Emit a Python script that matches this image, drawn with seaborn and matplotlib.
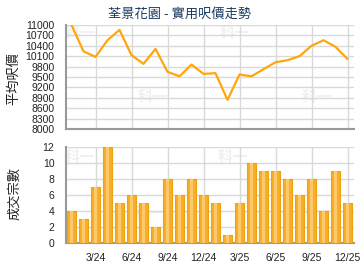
import matplotlib
matplotlib.use("Agg")
import matplotlib.pyplot as plt
import seaborn as sns
import pandas as pd

months = ["1/24","2/24","3/24","4/24","5/24","6/24","7/24","8/24","9/24","10/24","11/24","12/24",
          "1/25","2/25","3/25","4/25","5/25","6/25","7/25","8/25","9/25","10/25","11/25","12/25"]
price = [11000, 10240, 10080, 10560, 10860, 10130, 9880, 10310, 9650, 9520, 9860, 9590,
         9610, 8840, 9570, 9520, 9725, 9925, 9985, 10100, 10400, 10560, 10370, 10020]
deals = [4, 3, 7, 12, 5, 6, 5, 2, 8, 6, 8, 6, 5, 1, 5, 10, 9, 9, 8, 6, 8, 4, 9, 5]
tick_labels = ["3/24", "6/24", "9/24", "12/24", "3/25", "6/25", "9/25", "12/25"]
price_ticks = list(range(8000, 11001, 300))
deal_ticks = list(range(0, 13, 2))

title = "荃景花園 - 實用呎價走勢"
ylab_top = "平均呎價"
ylab_bot = "成交宗數"
watermark = "科一"

sns.set_theme(style="white")
plt.rcParams['font.family'] = ['Noto Sans CJK TC', 'DejaVu Sans']

df = pd.DataFrame({"month": months, "price": price, "deals": deals})
df["idx"] = range(len(months))
tick_pos = [months.index(t) for t in tick_labels]

W, H = 360, 270
fig = plt.figure(figsize=(3.6, 2.7), dpi=100)
ax1 = fig.add_axes([65.5 / W, 1 - 129 / H, 288 / W, 104 / H])
ax2 = fig.add_axes([65.5 / W, 1 - 243 / H, 288 / W, 96 / H])

grid_c = "#d9d9d9"
spine_c = "#9a9a9a"
lab_font = ['Liberation Sans', 'DejaVu Sans']

# watermark (behind grid and data)
for ax, pts in ((ax1, [(80, 33), (235, 33), (153, 97), (317, 97)]),
                (ax2, [(80, 157), (233, 157), (150, 213), (315, 212)])):
    for (x, y) in pts:
        ax.text(x / W, 1 - y / H, watermark, transform=fig.transFigure, fontsize=11,
                color="#f0f0f0", ha="center", va="center", fontweight="bold",
                zorder=0.2, clip_on=False)

# line chart
sns.lineplot(data=df, x="idx", y="price", ax=ax1, color="#ffa60a", linewidth=1.6, zorder=3)
ax1.set_xlim(-0.5, len(months) - 0.5)
ax1.set_ylim(8000, 11000)
ax1.set_yticks(price_ticks)
ax1.set_yticklabels([str(v) for v in price_ticks], family=lab_font, fontsize=7.5, color="#222222")
ax1.set_xticks(tick_pos)
ax1.set_xticklabels([])

# bar chart (two layers to mimic the gradient)
sns.barplot(data=df, x="idx", y="deals", ax=ax2, color="#f7ae2a", edgecolor="#eea112",
            linewidth=0.8, width=0.7, saturation=1, zorder=3)
sns.barplot(data=df, x="idx", y="deals", ax=ax2, color="#fcca6a", linewidth=0,
            width=0.32, saturation=1, zorder=4)
ax2.set_xlim(-0.5, len(months) - 0.5)
ax2.set_ylim(0, 12)
ax2.set_yticks(deal_ticks)
ax2.set_yticklabels([str(v) for v in deal_ticks], family=lab_font, fontsize=7.5, color="#222222")
ax2.set_xticks(tick_pos)
ax2.set_xticklabels(tick_labels, family=lab_font, fontsize=7.5, color="#222222")

for ax in (ax1, ax2):
    ax.patch.set_alpha(0)
    ax.set_xlabel("")
    ax.set_ylabel("")
    ax.grid(True, color=grid_c, linewidth=1.0, zorder=0)
    ax.set_axisbelow(True)
    for s in ("top", "right"):
        ax.spines[s].set_visible(False)
    for s in ("left", "bottom"):
        ax.spines[s].set_color(spine_c)
        ax.spines[s].set_linewidth(1.5)
    ax.tick_params(axis="y", length=0, pad=8)
    ax.tick_params(axis="x", length=3, color=spine_c, pad=4)

fig.text(180 / W, 1 - 14 / H, title, fontsize=9.5, color="#1d3c62", ha="center", va="center")
fig.text(14 / W, 1 - 79 / H, ylab_top, fontsize=9.5, color="#222222", rotation=90, ha="center", va="center")
fig.text(15 / W, 1 - 194 / H, ylab_bot, fontsize=9.5, color="#222222", rotation=90, ha="center", va="center")

fig.savefig("out.png", dpi=100)
